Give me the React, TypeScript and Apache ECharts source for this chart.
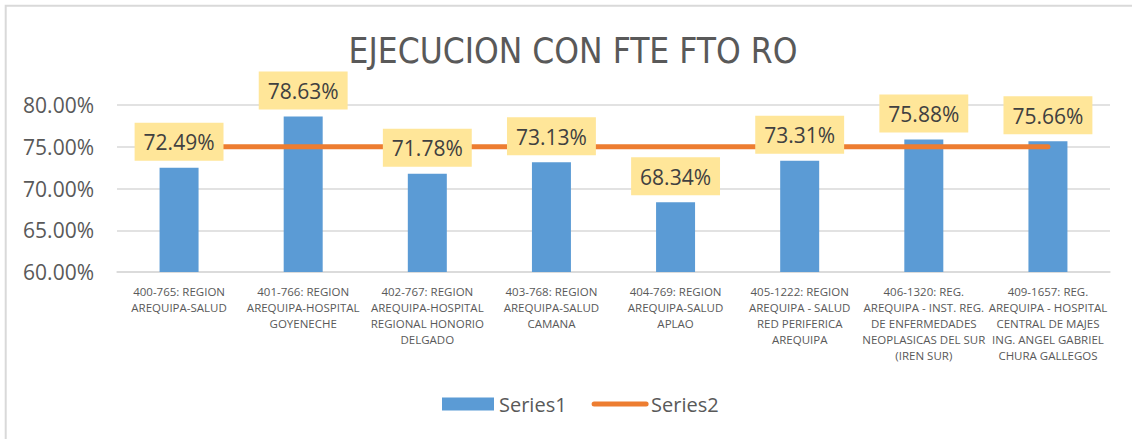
import React, { useEffect, useRef } from "react";
import * as echarts from "echarts";

const titleText = "EJECUCION CON FTE FTO RO";
const categories = [
  "400-765: REGION\nAREQUIPA-SALUD",
  "401-766: REGION\nAREQUIPA-HOSPITAL\nGOYENECHE",
  "402-767: REGION\nAREQUIPA-HOSPITAL\nREGIONAL HONORIO\nDELGADO",
  "403-768: REGION\nAREQUIPA-SALUD\nCAMANA",
  "404-769: REGION\nAREQUIPA-SALUD\nAPLAO",
  "405-1222: REGION\nAREQUIPA - SALUD\nRED PERIFERICA\nAREQUIPA",
  "406-1320: REG.\nAREQUIPA - INST. REG.\nDE ENFERMEDADES\nNEOPLASICAS DEL SUR\n(IREN SUR)",
  "409-1657: REG.\nAREQUIPA - HOSPITAL\nCENTRAL DE MAJES\nING. ANGEL GABRIEL\nCHURA GALLEGOS",
];
const series1Name = "Series1";
const series2Name = "Series2";
const series1Values = [72.49, 78.63, 71.78, 73.13, 68.34, 73.31, 75.88, 75.66];
const series2Values = [75, 75, 75, 75, 75, 75, 75, 75];
const yMin = 60;
const yMax = 80;
const yInterval = 5;

const pct = (v: number) => v.toFixed(2) + "%";

export default function App() {
  const ref = useRef<HTMLDivElement>(null);
  useEffect(() => {
    if (!ref.current) return;
    const chart = echarts.init(ref.current, null, { renderer: "svg" });
    const font = "'Open Sans', sans-serif";
    chart.setOption({
      animation: false,
      backgroundColor: "#ffffff",
      title: {
        text: titleText,
        left: 573,
        top: 33,
        padding: 0,
        textAlign: "center",
        textStyle: {
          fontFamily: "'Liberation Sans Narrow', 'DejaVu Sans Condensed', sans-serif",
          fontSize: 35,
          fontWeight: "normal",
          color: "#595959",
        },
      },
      graphic: [
        {
          type: "rect",
          shape: { x: 5.7, y: 5.7, width: 1300, height: 600 },
          style: { fill: "none", stroke: "#D9D9D9", lineWidth: 2 },
          silent: true,
        },
      ],
      legend: {
        data: [
          { name: series1Name, icon: "rect" },
          {
            name: series2Name,
            itemStyle: { color: "rgba(0,0,0,0)", borderColor: "rgba(0,0,0,0)", borderWidth: 0 },
            lineStyle: { color: "#ED7D31", width: 5, cap: "round" },
          },
        ],
        left: 437,
        top: 389,
        itemWidth: 52,
        itemHeight: 13,
        itemGap: 25,
        textStyle: { fontFamily: font, fontSize: 20, color: "#595959" },
      },
      grid: { left: 117, right: 22, top: 105, bottom: 167, containLabel: false },
      xAxis: {
        type: "category",
        data: categories,
        axisLine: { show: true, lineStyle: { color: "#D9D9D9", width: 1.5 } },
        axisTick: { show: false },
        axisLabel: {
          interval: 0,
          fontFamily: font,
          fontSize: 11.5,
          lineHeight: 16,
          color: "#595959",
          margin: 11,
        },
      },
      yAxis: {
        type: "value",
        min: yMin,
        max: yMax,
        interval: yInterval,
        axisLine: { show: false },
        axisTick: { show: false },
        splitLine: { lineStyle: { color: "#D9D9D9", width: 1.5 } },
        axisLabel: {
          formatter: (v: number) => pct(v),
          fontFamily: font,
          fontSize: 21,
          color: "#595959",
          margin: 23,
        },
      },
      series: [
        {
          name: series1Name,
          type: "bar",
          data: series1Values,
          barWidth: 39,
          itemStyle: { color: "#5B9BD5" },
          z: 1,
        },
        {
          name: series2Name,
          type: "line",
          data: series2Values,
          symbol: "none",
          showSymbol: false,
          lineStyle: { color: "#ED7D31", width: 5, cap: "round" },
          itemStyle: { color: "#ED7D31" },
          z: 3,
        },
        {
          name: "labels",
          type: "bar",
          data: series1Values,
          barWidth: 39,
          barGap: "-100%",
          silent: true,
          itemStyle: { color: "rgba(0,0,0,0)" },
          z: 10,
          label: {
            show: true,
            position: "top",
            distance: 7,
            formatter: (p: any) => pct(p.value),
            backgroundColor: "#FFE699",
            padding: [9, 9, 8, 9],
            fontFamily: font,
            fontSize: 21,
            lineHeight: 21,
            color: "#404040",
          },
        },
      ],
    });
    return () => chart.dispose();
  }, []);
  return (
    <div
      ref={ref}
      style={{ position: "fixed", left: 0, top: 0, width: 1132, height: 439, background: "#fff" }}
    />
  );
}
